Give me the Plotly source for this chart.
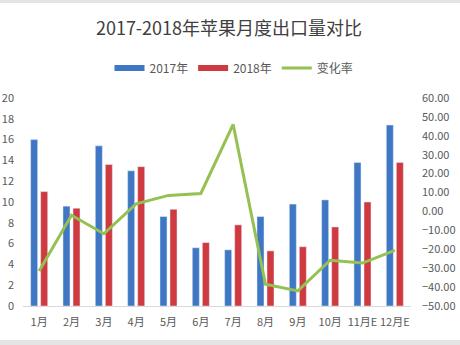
import plotly.graph_objects as go

# Monthly apple export volume, 2017 vs 2018, with year-on-year change rate
months = ["1月", "2月", "3月", "4月", "5月", "6月", "7月", "8月", "9月", "10月", "11月E", "12月E"]
exports_2017 = [16.0, 9.6, 15.4, 13.0, 8.6, 5.6, 5.4, 8.6, 9.8, 10.2, 13.8, 17.4]
exports_2018 = [11.0, 9.4, 13.6, 13.4, 9.3, 6.1, 7.8, 5.3, 5.7, 7.6, 10.0, 13.8]
change_rate = [-31.5, -2.0, -11.8, 4.0, 8.5, 9.5, 46.0, -38.5, -42.0, -25.8, -27.3, -20.6]

left_ticks = [0, 2, 4, 6, 8, 10, 12, 14, 16, 18, 20]
right_ticks = [-50, -40, -30, -20, -10, 0, 10, 20, 30, 40, 50, 60]

BLUE = "#3F77C5"
RED = "#CF3A41"
GREEN = "#94C152"
TEXT = "#595959"
FONT = "Noto Sans CJK SC"

W, H = 460, 345
ML, MR, MT, MB = 23, 49, 98, 39
PW, PH = W - ML - MR, H - MT - MB

fig = go.Figure()

fig.add_trace(go.Bar(x=months, y=exports_2017, name="2017年", marker_color=BLUE,
                     showlegend=False, yaxis="y"))
fig.add_trace(go.Bar(x=months, y=exports_2018, name="2018年", marker_color=RED,
                     showlegend=False, yaxis="y"))
fig.add_trace(go.Scatter(x=months, y=change_rate, name="变化率", mode="lines",
                         line=dict(color=GREEN, width=3), showlegend=False, yaxis="y2"))

# Legend entries: flat swatches for the bar series, a thin line for the rate
for name, color, width in [("2017年", BLUE, 6), ("2018年", RED, 6), ("变化率", GREEN, 3)]:
    fig.add_trace(go.Scatter(x=[None], y=[None], name=name, mode="lines",
                             line=dict(color=color, width=width), showlegend=True, yaxis="y"))

# Light grey bands along the top and bottom edges
def py(p):
    return (H - MB - p) / PH

fig.add_shape(type="rect", xref="paper", yref="paper", x0=-ML / PW, x1=1 + MR / PW,
              y0=py(3), y1=py(0), fillcolor="#E4E4E4", line_width=0, layer="below")
fig.add_shape(type="rect", xref="paper", yref="paper", x0=-ML / PW, x1=1 + MR / PW,
              y0=py(H), y1=py(340), fillcolor="#E4E4E4", line_width=0, layer="below")

fig.update_layout(
    width=W, height=H,
    margin=dict(l=ML, r=MR, t=MT, b=MB, pad=0, autoexpand=False),
    paper_bgcolor="white", plot_bgcolor="white",
    font=dict(family=FONT, size=11, color=TEXT),
    title=dict(text="2017-2018年苹果月度出口量对比", x=229 / W, xanchor="center",
               xref="container", yref="container", y=1 - 29 / H, yanchor="middle",
               font=dict(family=FONT, size=18, color="#404040")),
    barmode="group", bargap=0.38, bargroupgap=0.3,
    showlegend=True,
    legend=dict(orientation="h", xref="container", yref="container",
                x=234 / W, xanchor="center", y=1 - 68 / H, yanchor="middle",
                font=dict(family=FONT, size=12, color=TEXT),
                itemwidth=30, tracegroupgap=0, bgcolor="rgba(0,0,0,0)"),
    xaxis=dict(type="category", categoryorder="array", categoryarray=months,
               showline=True, linecolor="#D9D9D9", linewidth=1, showgrid=False,
               ticks="", tickangle=0, tickfont=dict(size=11, color=TEXT),
               ticklabelstandoff=6, automargin=False,
               zeroline=False, fixedrange=True),
    yaxis=dict(range=[0, 20], tickvals=left_ticks, showgrid=False, zeroline=False,
               showline=False, ticks="", ticklabelstandoff=8, automargin=False,
               tickfont=dict(size=11, color=TEXT)),
    yaxis2=dict(range=[-50, 60], tickvals=right_ticks, overlaying="y", side="right",
                tickformat=".2f", ticksuffix="%", showgrid=False, zeroline=False,
                showline=False, ticks="", ticklabelstandoff=10, automargin=False,
                tickfont=dict(size=11, color=TEXT)),
)

fig.write_html("out.html")
